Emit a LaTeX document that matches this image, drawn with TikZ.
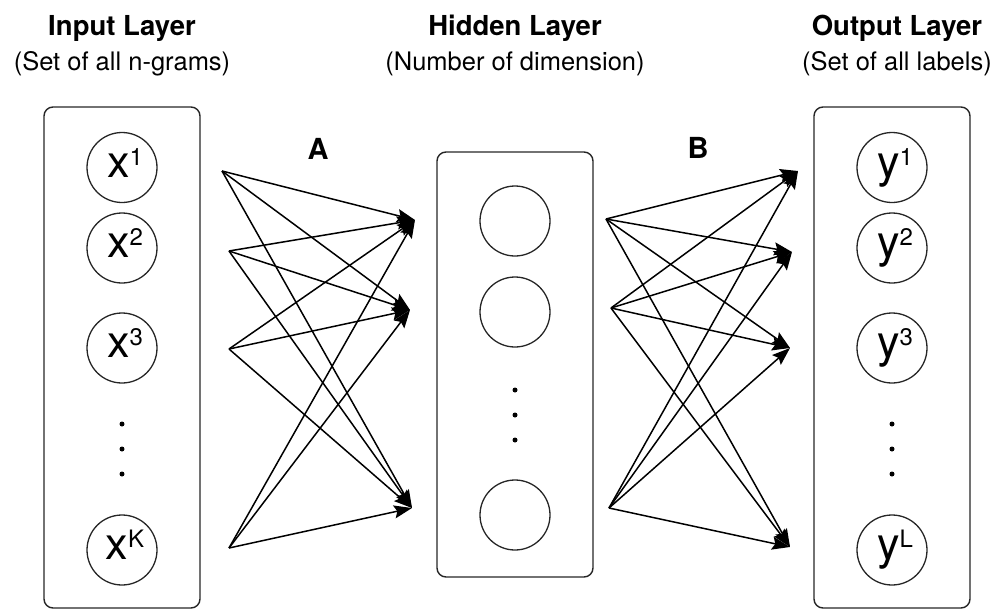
\documentclass[tikz,border=0pt]{standalone}
\usepackage{fontspec}
\setmainfont{TeX Gyre Heros}
\usetikzlibrary{arrows.meta}

% letter with a raised index, as used inside the unit circles
\newcommand\unitlabel[2]{\kern6pt{\fontsize{45}{45}\selectfont #1}\raisebox{12pt}{\fontsize{24}{24}\selectfont #2}}

\begin{document}
\begin{tikzpicture}[x=1pt,y=-1pt,line join=round,
  layerbox/.style={draw=black!85,line width=1.4pt,rounded corners=9pt,inner sep=0pt},
  unit/.style={draw=black!85,circle,line width=1.3pt,minimum size=70pt,inner sep=0pt,text depth=10pt},
  dotmark/.style={circle,fill=black,inner sep=0pt,minimum size=5pt},
  title/.style={anchor=base,font=\fontsize{27.5}{28}\selectfont\bfseries},
  subtitle/.style={anchor=base,font=\fontsize{25.5}{26}\selectfont},
  weightlbl/.style={anchor=base,font=\fontsize{29}{29}\selectfont\bfseries},
  wire/.style={line width=1.5pt,-{Stealth[length=18pt,width=13pt,inset=3pt]}},
]
\useasboundingbox (0,0) rectangle (994,611);

% layer frames
\node[layerbox,minimum width=156pt,minimum height=501pt] (inbox)  at (122,357.5) {};
\node[layerbox,minimum width=156pt,minimum height=425pt] (hidbox) at (515,364.5) {};
\node[layerbox,minimum width=156pt,minimum height=501pt] (outbox) at (892,357.5) {};

% headings
\node[title]    (intitle)  at (122,35) {Input Layer};
\node[subtitle] (insub)    at (122,70) {(Set of all n-grams)};
\node[title]    (hidtitle) at (515,35) {Hidden Layer};
\node[subtitle] (hidsub)   at (515,70) {(Number of dimension)};
\node[title]    (outtitle) at (897,35) {Output Layer};
\node[subtitle] (outsub)   at (897,70) {(Set of all labels)};

% weight matrix labels
\node[weightlbl] (lblA) at (318,159) {A};
\node[weightlbl] (lblB) at (698,158) {B};

% input units
\node[unit] (x1) at (122,167.5) {\unitlabel{x}{1}};
\node[unit] (x2) at (122,248)   {\unitlabel{x}{2}};
\node[unit] (x3) at (122,348)   {\unitlabel{x}{3}};
\node[unit] (xk) at (122,550)   {\unitlabel{x}{K}};
\node[dotmark] (xd1) at (122,424) {};
\node[dotmark] (xd2) at (122,449) {};
\node[dotmark] (xd3) at (122,474) {};

% hidden units
\node[unit] (h1) at (515,221) {};
\node[unit] (h2) at (515,312) {};
\node[unit] (hm) at (515,515) {};
\node[dotmark] (hd1) at (515,390) {};
\node[dotmark] (hd2) at (515,415) {};
\node[dotmark] (hd3) at (515,440) {};

% output units
\node[unit] (y1) at (892,167.5) {\unitlabel{y}{1}};
\node[unit] (y2) at (892,248)   {\unitlabel{y}{2}};
\node[unit] (y3) at (892,348)   {\unitlabel{y}{3}};
\node[unit] (yl) at (892,550)   {\unitlabel{y}{L}};
\node[dotmark] (yd1) at (892,424) {};
\node[dotmark] (yd2) at (892,449) {};
\node[dotmark] (yd3) at (892,474) {};

% connection end points between the frames
\coordinate (as1) at (222,171);
\coordinate (as2) at (229,251);
\coordinate (as3) at (229,349);
\coordinate (as4) at (229,548);
\coordinate (at1) at (415,220);
\coordinate (at2) at (410,310);
\coordinate (at3) at (412,508);
\coordinate (bs1) at (606,219);
\coordinate (bs2) at (611,308);
\coordinate (bs3) at (609,508);
\coordinate (bt1) at (798,171);
\coordinate (bt2) at (792,252);
\coordinate (bt3) at (790,348);
\coordinate (bt4) at (790,547);

% fully connected weights A and B
\foreach \s in {1,...,4}
  \foreach \t in {1,2,3}
    \draw[wire] (as\s) -- (at\t);
\foreach \s in {1,2,3}
  \foreach \t in {1,...,4}
    \draw[wire] (bs\s) -- (bt\t);
\end{tikzpicture}
\end{document}
